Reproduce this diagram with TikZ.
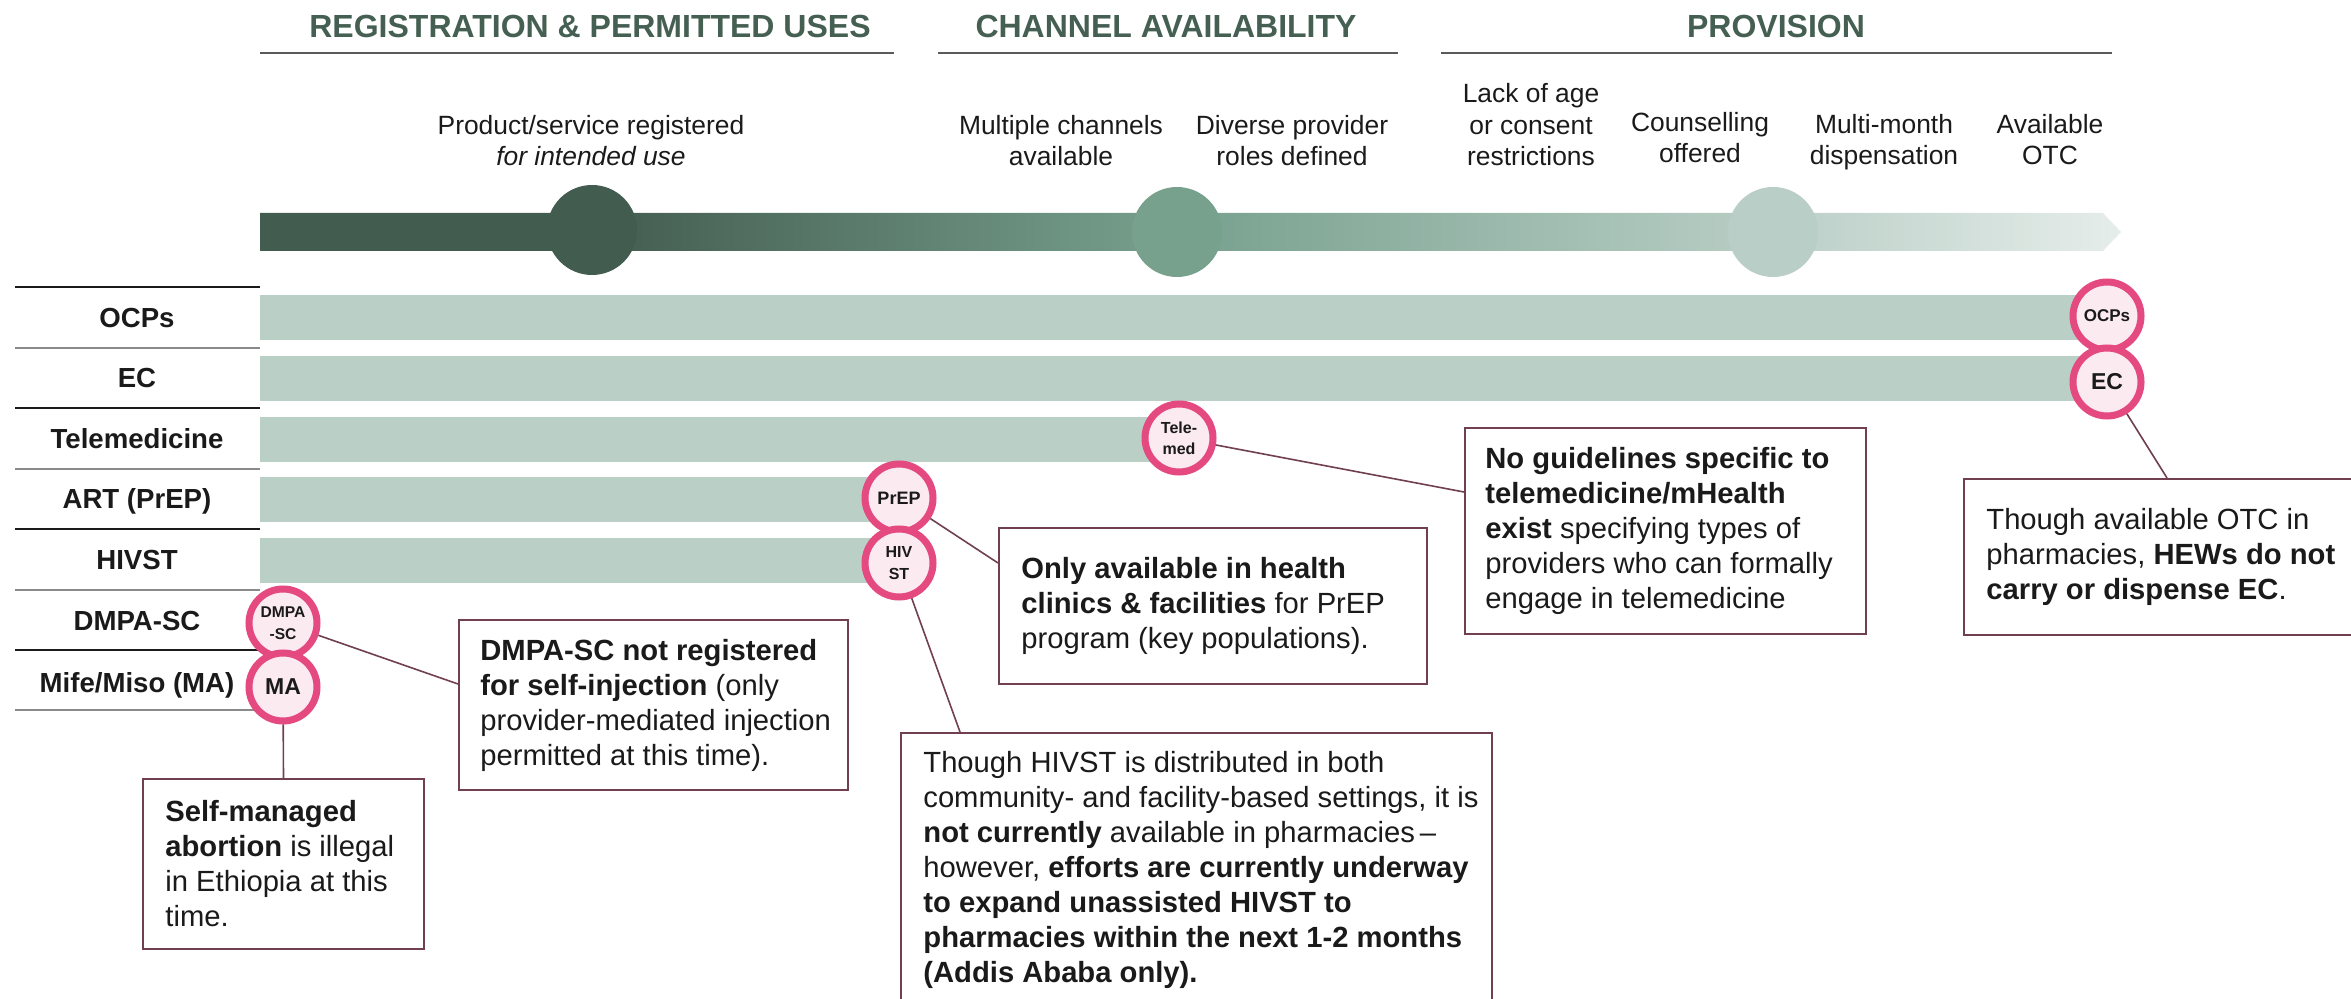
\documentclass[tikz,border=0pt]{standalone}
\usepackage{fontspec}
\setmainfont{Liberation Sans}
\usetikzlibrary{positioning, calc}

\definecolor{headGreen}{HTML}{456052}
\definecolor{barDark}{HTML}{435C50}
\definecolor{barMid}{HTML}{77A08D}
\definecolor{barLight}{HTML}{B9CEC6}
\definecolor{barPale}{HTML}{E6EDEA}
\definecolor{rowGreen}{HTML}{BACFC6}
\definecolor{badgeRing}{HTML}{E44A80}
\definecolor{badgeFill}{HTML}{FBEAF0}
\definecolor{noteLine}{HTML}{70404E}
\definecolor{inkBlack}{HTML}{1A1A1A}
\definecolor{ruleGray}{HTML}{5A5A5A}
\definecolor{sepGray}{HTML}{8A8A8A}

\pgfdeclarehorizontalshading{stagebar}{100bp}{color(0bp)=(barDark); color(33.9bp)=(barDark); color(49.6bp)=(barMid); color(65.6bp)=(barLight); color(75bp)=(barPale); color(100bp)=(barPale)}

\tikzset{
  colhead/.style={anchor=base, inner sep=0pt, text=headGreen, font=\bfseries\fontsize{16}{19}\selectfont},
  stagelabel/.style={anchor=base, inner sep=0pt, align=center, text=inkBlack, font=\fontsize{13.2}{15.75}\selectfont},
  rowlabel/.style={anchor=base, inner sep=0pt, text=inkBlack, font=\bfseries\fontsize{13.8}{16}\selectfont},
  milestone/.style={circle, minimum size=45pt, inner sep=0pt},
  badge/.style={circle, draw=badgeRing, fill=badgeFill, line width=3.5pt, minimum size=34pt, inner sep=0pt, align=center, text=inkBlack},
  notebox/.style={draw=noteLine, line width=1pt, fill=white, inner sep=0pt, anchor=north west},
  notetext/.style={anchor=west, inner sep=0pt, align=left, text=inkBlack, font=\fontsize{14.6}{17.5}\selectfont},
  link/.style={draw=noteLine, line width=0.8pt}
}

\begin{document}
\begin{tikzpicture}[x=0.5pt, y=-0.5pt]
    \useasboundingbox (0,0) rectangle (2351,999);
    \clip (0,0) rectangle (2351,999);

    % --- Section headers ---
    \node[colhead] (regHead) at (590,38) {REGISTRATION \& PERMITTED USES};
    \node[colhead] (chanHead) at (1166,38) {CHANNEL AVAILABILITY};
    \node[colhead] (provHead) at (1776,38) {PROVISION};
    \foreach \xa/\xb in {260/894, 938/1398, 1441/2112} {
      \draw[ruleGray, line width=1pt] (\xa,53) -- (\xb,53);
    }

    % --- Stage labels above the arrow (base = last line) ---
    \node[stagelabel] (prodLbl) at (591,166) {Product/service registered\\\textit{for intended use}};
    \node[stagelabel] (multiLbl) at (1061,166) {Multiple channels\\available};
    \node[stagelabel] (diverseLbl) at (1292,166) {Diverse provider\\roles defined};
    \node[stagelabel] (ageLbl) at (1531,166) {Lack of age\\or consent\\restrictions};
    \node[stagelabel] (counselLbl) at (1700,163) {Counselling\\offered};
    \node[stagelabel] (monthLbl) at (1884,165) {Multi-month\\dispensation};
    \node[stagelabel] (otcLbl) at (2050,165) {Available\\OTC};

    % --- Progress arrow with milestones ---
    \shade[shading=stagebar] (260,213) -- (2103,213) -- (2121,232) -- (2103,251) -- (260,251) -- cycle;
    \node[milestone, fill=barDark] (regDot) at (592,230) {};
    \node[milestone, fill=barMid] (chanDot) at (1177,232) {};
    \node[milestone, fill=barLight] (provDot) at (1773,232) {};

    % --- Row labels and separators ---
    \foreach \y/\c in {287/inkBlack, 348/sepGray, 408/inkBlack, 469/sepGray, 529/inkBlack, 590/sepGray, 650/inkBlack, 710/sepGray} {
      \draw[\c, line width=1pt] (15,\y) -- (260,\y);
    }
    \foreach \lbl/\y [count=\i] in {OCPs/328, EC/388, Telemedicine/449, {ART (PrEP)}/509, HIVST/570, DMPA-SC/631, {Mife/Miso (MA)}/692} {
      \node[rowlabel] (row\i) at (137,\y) {\lbl};
    }

    % Row bars run up to their badge
    \foreach \ya/\xe in {295/2107, 356/2107, 417/1179, 477/899, 538/899} {
      \fill[rowGreen] (260,\ya) rectangle (\xe,\ya+45);
    }

    % --- Callout boxes ---
    \node[notebox, minimum width=140.5pt, minimum height=85pt] (maNote) at (142,778) {};
    \node[notetext, right=11.5pt of maNote.west] (maText) {\textbf{Self-managed}\\\textbf{abortion} is illegal\\in Ethiopia at this\\time.};

    \node[notebox, minimum width=194.5pt, minimum height=85pt] (dmpaNote) at (458,619) {};
    \node[notetext, right=11pt of dmpaNote.west] (dmpaText) {\textbf{DMPA-SC not registered}\\\textbf{for self-injection} (only\\provider-mediated injection\\permitted at this time).};

    \node[notebox, minimum width=214pt, minimum height=78pt] (prepNote) at (998,527) {};
    \node[notetext, right=11.5pt of prepNote.west] (prepText) {\textbf{Only available in health}\\\textbf{clinics \& facilities} for PrEP\\program (key populations).};

    \node[notebox, minimum width=295.5pt, minimum height=136.5pt] (hivNote) at (900,732) {};
    \node[notetext, right=11.5pt of hivNote.west] (hivText) {Though HIVST is distributed in both\\community- and facility-based settings, it is\\\textbf{not currently} available in pharmacies\,--\\however, \textbf{efforts are currently underway}\\\textbf{to expand unassisted HIVST to}\\\textbf{pharmacies within the next 1-2 months}\\\textbf{(Addis Ababa only).}};

    \node[notebox, minimum width=200.5pt, minimum height=103pt] (teleNote) at (1464,427) {};
    \node[notetext, right=10.5pt of teleNote.west] (teleText) {\textbf{No guidelines specific to}\\\textbf{telemedicine/mHealth}\\\textbf{exist} specifying types of\\providers who can formally\\engage in telemedicine};

    \node[notebox, minimum width=210pt, minimum height=78pt] (ecNote) at (1963,478) {};
    \node[notetext, right=11.5pt of ecNote.west] (ecText) {Though available OTC in\\pharmacies, \textbf{HEWs do not}\\\textbf{carry or dispense EC}.};

    % --- Badges ---
    \node[badge, font=\bfseries\fontsize{8.5}{10}\selectfont] (ocpsB) at (2107,316) {OCPs};
    \node[badge, font=\bfseries\fontsize{11.5}{13}\selectfont] (ecB) at (2107,382) {EC};
    \node[badge, font=\bfseries\fontsize{8}{10.5}\selectfont] (teleB) at (1179,438) {Tele-\\med};
    \node[badge, font=\bfseries\fontsize{9}{11}\selectfont] (prepB) at (899,498) {PrEP};
    \node[badge, font=\bfseries\fontsize{8}{11}\selectfont] (hivB) at (899,563) {HIV\\ST};
    \node[badge, font=\bfseries\fontsize{7.8}{11}\selectfont] (dmpaB) at (283,623) {DMPA\\-SC};
    \node[badge, font=\bfseries\fontsize{11.5}{13}\selectfont] (maB) at (283,687) {MA};

    % --- Connectors ---
    \draw[link] (maB) -- (maNote.north);
    \draw[link] (dmpaB) -- ([yshift=10.5pt]dmpaNote.west);
    \draw[link] (prepB) -- ([yshift=21.5pt]prepNote.west);
    \draw[link] (hivB) -- ([xshift=30pt]hivNote.north west);
    \draw[link] (teleB) -- ([yshift=19.5pt]teleNote.west);
    \draw[link] (ecB) -- ([xshift=102pt]ecNote.north west);

\end{tikzpicture}
\end{document}
